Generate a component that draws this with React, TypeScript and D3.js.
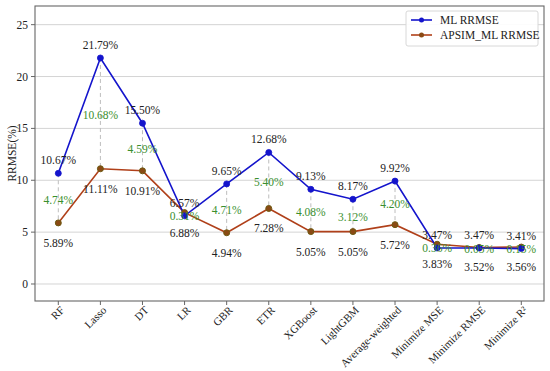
import React from "react";
import * as d3 from "d3";

const categories = ["RF", "Lasso", "DT", "LR", "GBR", "ETR", "XGBoost", "LightGBM", "Average-weighted", "Minimize MSE", "Minimize RMSE", "Minimize R²"];
const mlValues = [10.67, 21.79, 15.5, 6.57, 9.65, 12.68, 9.13, 8.17, 9.92, 3.47, 3.47, 3.41];
const apsimValues = [5.89, 11.11, 10.91, 6.88, 4.94, 7.28, 5.05, 5.05, 5.72, 3.83, 3.52, 3.56];
const diffLabels = ["4.74%", "10.68%", "4.59%", "0.31%", "4.71%", "5.40%", "4.08%", "3.12%", "4.20%", "0.36%", "0.05%", "0.15%"];
const yTicks = [0, 5, 10, 15, 20, 25];

const W = 550, H = 371;
const left = 35, right = 544, top = 6, bottom = 301;
const BLUE = "#1414cc";
const BROWN = "#b0401a";
const GREEN = "#3a8f2e";
const FONT = "Liberation Serif, Times New Roman, DejaVu Serif, serif";

export default function App() {
  const x = d3.scalePoint<string>().domain(categories).range([58.3, 521.3]);
  const y = d3.scaleLinear().domain([-1.64, 26.8]).range([bottom, top]);
  const line = d3.line<number>().x((_, i) => x(categories[i])!).y((d) => y(d));

  return (
    <svg width={W} height={H} style={{ position: "absolute", left: 0, top: 0, background: "#fff", fontFamily: FONT }}>
      {yTicks.map((t) => (
        <line key={"g" + t} x1={left} x2={right} y1={y(t)} y2={y(t)} stroke="#d4d4d4" strokeWidth={1} />
      ))}
      {categories.map((c, i) => (
        <line key={"d" + i} x1={x(c)} x2={x(c)} y1={y(mlValues[i])} y2={y(apsimValues[i])} stroke="#bdbdbd" strokeWidth={1} strokeDasharray="4,3" />
      ))}
      <path d={line(apsimValues)!} fill="none" stroke={BROWN} strokeWidth={1.6} />
      <path d={line(mlValues)!} fill="none" stroke={BLUE} strokeWidth={1.6} />
      {apsimValues.map((v, i) => (
        <circle key={"ap" + i} cx={x(categories[i])} cy={y(v)} r={3} fill="#8a4a14" stroke="#6e5a12" strokeWidth={1} />
      ))}
      {mlValues.map((v, i) => (
        <circle key={"ml" + i} cx={x(categories[i])} cy={y(v)} r={3} fill={BLUE} stroke={BLUE} strokeWidth={0.8} />
      ))}
      {categories.map((c, i) => {
        const yb = y(mlValues[i]);
        const ya = y(apsimValues[i]);
        return (
          <g key={"l" + i} fontSize={11.5} textAnchor="middle" dominantBaseline="central" style={{ fontFamily: FONT }}>
            <text x={x(c)} y={yb - 13} fill="#222">{mlValues[i].toFixed(2)}%</text>
            <text x={x(c)} y={ya + 20} fill="#222">{apsimValues[i].toFixed(2)}%</text>
            <text x={x(c)} y={(yb + ya) / 2 + 1.5} fill={GREEN}>{diffLabels[i]}</text>
          </g>
        );
      })}
      <rect x={left} y={top} width={right - left} height={bottom - top} fill="none" stroke="#666" strokeWidth={1.1} />
      {yTicks.map((t) => (
        <g key={"yt" + t}>
          <line x1={left - 4} x2={left} y1={y(t)} y2={y(t)} stroke="#666" />
          <text x={left - 7} y={y(t)} fontSize={11.5} textAnchor="end" dominantBaseline="central" fill="#222" style={{ fontFamily: FONT }}>{t}</text>
        </g>
      ))}
      <text transform={`translate(12,${(top + bottom) / 2}) rotate(-90)`} fontSize={11.5} textAnchor="middle" dominantBaseline="central" fill="#222" style={{ fontFamily: FONT }}>RRMSE(%)</text>
      {categories.map((c) => (
        <g key={"xt" + c}>
          <line x1={x(c)} x2={x(c)} y1={bottom} y2={bottom + 4} stroke="#666" />
          <text transform={`translate(${x(c)! + 4},${bottom + 7}) rotate(-45)`} fontSize={11} textAnchor="end" dominantBaseline="central" fill="#222" style={{ fontFamily: FONT }}>{c}</text>
        </g>
      ))}
      <rect x={406} y={11} width={132} height={35} rx={2} fill="#fff" fillOpacity={0.9} stroke="#d8d8d8" />
      <line x1={411} x2={432} y1={20} y2={20} stroke={BLUE} strokeWidth={1.6} />
      <circle cx={421.5} cy={20} r={2.5} fill={BLUE} />
      <text x={440} y={20} fontSize={11.5} dominantBaseline="central" fill="#222" style={{ fontFamily: FONT }}>ML RRMSE</text>
      <line x1={411} x2={432} y1={35} y2={35} stroke={BROWN} strokeWidth={1.6} />
      <circle cx={421.5} cy={35} r={2.5} fill="#8a4a14" />
      <text x={440} y={35} fontSize={11.5} dominantBaseline="central" fill="#222" style={{ fontFamily: FONT }}>APSIM_ML RRMSE</text>
    </svg>
  );
}
